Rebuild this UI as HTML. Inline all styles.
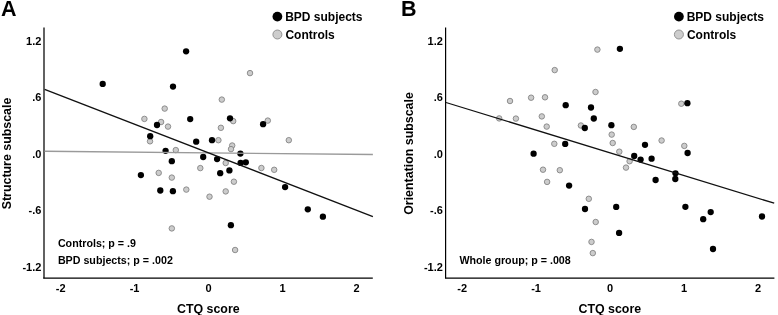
<!DOCTYPE html>
<html><head><meta charset="utf-8"><style>
html,body{margin:0;padding:0;background:#fff;}
svg{display:block;}
text{font-family:"Liberation Sans",sans-serif;font-weight:bold;fill:#000;}
.let{font-size:21.5px;}
.tick{font-size:11px;}
.atitle{font-size:12.4px;}
.leg{font-size:12px;}
.ann{font-size:10.7px;}
.b{fill:#000;}
.g{fill:#cccccc;stroke:#858585;stroke-width:0.9;}
.lb{fill:#000;}
.lg{fill:#cdcdcd;stroke:#8a8a8a;stroke-width:0.9;}
</style></head><body>
<svg width="778" height="315" viewBox="0 0 778 315" style="will-change:transform">
<rect width="778" height="315" fill="#fff"/>
<line x1="44" y1="27.5" x2="44" y2="278.2" stroke="#3a3a3a" stroke-width="1.6"/>
<line x1="43.2" y1="278.2" x2="372.8" y2="278.2" stroke="#000" stroke-width="1.2"/>
<line x1="445.6" y1="27.5" x2="445.6" y2="278.2" stroke="#000" stroke-width="1.2"/>
<line x1="445" y1="278.2" x2="774.4" y2="278.2" stroke="#000" stroke-width="1.2"/>
<circle class="g" cx="250.0" cy="73.1" r="2.75"/>
<circle class="g" cx="221.8" cy="99.6" r="2.75"/>
<circle class="g" cx="164.7" cy="108.6" r="2.75"/>
<circle class="g" cx="144.4" cy="118.9" r="2.75"/>
<circle class="g" cx="161.1" cy="122.0" r="2.75"/>
<circle class="g" cx="168.0" cy="126.6" r="2.75"/>
<circle class="g" cx="233.2" cy="121.1" r="2.75"/>
<circle class="g" cx="220.9" cy="127.8" r="2.75"/>
<circle class="g" cx="267.8" cy="120.6" r="2.75"/>
<circle class="g" cx="150.0" cy="141.3" r="2.75"/>
<circle class="g" cx="218.4" cy="140.2" r="2.75"/>
<circle class="g" cx="288.8" cy="140.2" r="2.75"/>
<circle class="g" cx="232.2" cy="145.5" r="2.75"/>
<circle class="g" cx="231.0" cy="149.1" r="2.75"/>
<circle class="g" cx="175.8" cy="150.1" r="2.75"/>
<circle class="g" cx="225.7" cy="163.0" r="2.75"/>
<circle class="g" cx="200.3" cy="168.1" r="2.75"/>
<circle class="g" cx="261.4" cy="168.0" r="2.75"/>
<circle class="g" cx="274.2" cy="169.8" r="2.75"/>
<circle class="g" cx="158.7" cy="172.9" r="2.75"/>
<circle class="g" cx="171.8" cy="177.6" r="2.75"/>
<circle class="g" cx="233.9" cy="181.7" r="2.75"/>
<circle class="g" cx="186.3" cy="189.6" r="2.75"/>
<circle class="g" cx="225.7" cy="191.4" r="2.75"/>
<circle class="g" cx="209.5" cy="196.7" r="2.75"/>
<circle class="g" cx="171.8" cy="228.4" r="2.75"/>
<circle class="g" cx="235.1" cy="250.0" r="2.75"/>
<circle class="b" cx="102.7" cy="83.9" r="3.15"/>
<circle class="b" cx="186.1" cy="51.3" r="3.15"/>
<circle class="b" cx="173.0" cy="86.6" r="3.15"/>
<circle class="b" cx="190.2" cy="119.1" r="3.15"/>
<circle class="b" cx="230.0" cy="118.3" r="3.15"/>
<circle class="b" cx="157.0" cy="125.0" r="3.15"/>
<circle class="b" cx="263.1" cy="124.2" r="3.15"/>
<circle class="b" cx="150.2" cy="136.2" r="3.15"/>
<circle class="b" cx="196.2" cy="141.7" r="3.15"/>
<circle class="b" cx="212.0" cy="140.2" r="3.15"/>
<circle class="b" cx="240.4" cy="153.6" r="3.15"/>
<circle class="b" cx="203.2" cy="157.0" r="3.15"/>
<circle class="b" cx="217.1" cy="159.1" r="3.15"/>
<circle class="b" cx="240.6" cy="162.9" r="3.15"/>
<circle class="b" cx="245.8" cy="162.3" r="3.15"/>
<circle class="b" cx="171.8" cy="161.2" r="3.15"/>
<circle class="b" cx="220.2" cy="173.2" r="3.15"/>
<circle class="b" cx="229.4" cy="170.4" r="3.15"/>
<circle class="b" cx="160.3" cy="190.5" r="3.15"/>
<circle class="b" cx="172.9" cy="191.2" r="3.15"/>
<circle class="b" cx="140.9" cy="175.1" r="3.15"/>
<circle class="b" cx="230.9" cy="225.2" r="3.15"/>
<circle class="b" cx="285.1" cy="187.1" r="3.15"/>
<circle class="b" cx="307.8" cy="209.3" r="3.15"/>
<circle class="b" cx="322.9" cy="216.7" r="3.15"/>
<circle class="b" cx="165.6" cy="150.8" r="3.15"/>
<circle class="g" cx="597.4" cy="49.6" r="2.75"/>
<circle class="g" cx="554.7" cy="70.1" r="2.75"/>
<circle class="g" cx="595.5" cy="92.0" r="2.75"/>
<circle class="g" cx="510.0" cy="101.0" r="2.75"/>
<circle class="g" cx="531.1" cy="97.7" r="2.75"/>
<circle class="g" cx="545.0" cy="97.3" r="2.75"/>
<circle class="g" cx="499.2" cy="118.4" r="2.75"/>
<circle class="g" cx="515.9" cy="118.6" r="2.75"/>
<circle class="g" cx="541.8" cy="116.4" r="2.75"/>
<circle class="g" cx="546.7" cy="126.6" r="2.75"/>
<circle class="g" cx="580.9" cy="125.5" r="2.75"/>
<circle class="g" cx="611.7" cy="134.6" r="2.75"/>
<circle class="g" cx="612.7" cy="143.0" r="2.75"/>
<circle class="g" cx="554.3" cy="143.8" r="2.75"/>
<circle class="g" cx="619.3" cy="151.7" r="2.75"/>
<circle class="g" cx="633.8" cy="126.9" r="2.75"/>
<circle class="g" cx="661.6" cy="140.5" r="2.75"/>
<circle class="g" cx="681.3" cy="103.7" r="2.75"/>
<circle class="g" cx="684.3" cy="145.9" r="2.75"/>
<circle class="g" cx="629.6" cy="161.2" r="2.75"/>
<circle class="g" cx="626.0" cy="167.6" r="2.75"/>
<circle class="g" cx="543.0" cy="169.7" r="2.75"/>
<circle class="g" cx="559.8" cy="170.2" r="2.75"/>
<circle class="g" cx="547.1" cy="181.9" r="2.75"/>
<circle class="g" cx="588.8" cy="198.8" r="2.75"/>
<circle class="g" cx="595.7" cy="222.0" r="2.75"/>
<circle class="g" cx="591.5" cy="241.9" r="2.75"/>
<circle class="g" cx="592.8" cy="253.1" r="2.75"/>
<circle class="b" cx="619.9" cy="48.8" r="3.15"/>
<circle class="b" cx="565.7" cy="105.2" r="3.15"/>
<circle class="b" cx="591.0" cy="107.5" r="3.15"/>
<circle class="b" cx="593.8" cy="118.5" r="3.15"/>
<circle class="b" cx="584.8" cy="128.0" r="3.15"/>
<circle class="b" cx="611.4" cy="125.2" r="3.15"/>
<circle class="b" cx="533.6" cy="153.7" r="3.15"/>
<circle class="b" cx="565.2" cy="143.9" r="3.15"/>
<circle class="b" cx="687.4" cy="103.2" r="3.15"/>
<circle class="b" cx="645.0" cy="144.8" r="3.15"/>
<circle class="b" cx="687.6" cy="153.0" r="3.15"/>
<circle class="b" cx="634.2" cy="156.0" r="3.15"/>
<circle class="b" cx="640.6" cy="159.6" r="3.15"/>
<circle class="b" cx="651.6" cy="158.7" r="3.15"/>
<circle class="b" cx="675.5" cy="173.3" r="3.15"/>
<circle class="b" cx="675.3" cy="179.0" r="3.15"/>
<circle class="b" cx="655.6" cy="180.0" r="3.15"/>
<circle class="b" cx="569.1" cy="185.6" r="3.15"/>
<circle class="b" cx="585.0" cy="209.0" r="3.15"/>
<circle class="b" cx="616.2" cy="206.9" r="3.15"/>
<circle class="b" cx="619.1" cy="232.9" r="3.15"/>
<circle class="b" cx="685.4" cy="206.8" r="3.15"/>
<circle class="b" cx="710.7" cy="212.1" r="3.15"/>
<circle class="b" cx="703.2" cy="219.2" r="3.15"/>
<circle class="b" cx="713.0" cy="249.0" r="3.15"/>
<circle class="b" cx="762.0" cy="216.5" r="3.15"/>
<line x1="44.6" y1="151.3" x2="372.9" y2="154.5" stroke="#9a9a9a" stroke-width="1.4"/>
<line x1="44.6" y1="89.3" x2="372.9" y2="216.6" stroke="#111" stroke-width="1.3"/>
<line x1="446" y1="102.5" x2="774.2" y2="203.2" stroke="#111" stroke-width="1.3"/>
<text class="let" x="1.1" y="15.7">A</text>
<text class="tick" x="41.4" y="44.80" text-anchor="end">1.2</text>
<text class="tick" x="41.4" y="101.26" text-anchor="end">.6</text>
<text class="tick" x="41.4" y="157.72" text-anchor="end">.0</text>
<text class="tick" x="41.4" y="214.18" text-anchor="end">-.6</text>
<text class="tick" x="41.4" y="270.64" text-anchor="end">-1.2</text>
<text class="tick" x="60.61" y="291.6" text-anchor="middle">-2</text>
<text class="tick" x="134.58" y="291.6" text-anchor="middle">-1</text>
<text class="tick" x="208.55" y="291.6" text-anchor="middle">0</text>
<text class="tick" x="282.52" y="291.6" text-anchor="middle">1</text>
<text class="tick" x="356.49" y="291.6" text-anchor="middle">2</text>
<text class="atitle" x="208.3" y="312.8" text-anchor="middle">CTQ score</text>
<text class="atitle" transform="translate(11.4,153.5) rotate(-90)" text-anchor="middle">Structure subscale</text>
<circle class="lb" cx="277.4" cy="16.6" r="4.9"/>
<circle class="lg" cx="277.4" cy="34.5" r="4.5"/>
<text class="leg" x="285.2" y="20.9">BPD subjects</text>
<text class="leg" x="285.4" y="38.6">Controls</text>
<text class="ann" x="57.9" y="246.7">Controls; p = .9</text>
<text class="ann" x="57.9" y="264.3">BPD subjects; p = .002</text>
<text class="let" x="401.1" y="15.7">B</text>
<text class="tick" x="442.9" y="44.80" text-anchor="end">1.2</text>
<text class="tick" x="442.9" y="101.26" text-anchor="end">.6</text>
<text class="tick" x="442.9" y="157.72" text-anchor="end">.0</text>
<text class="tick" x="442.9" y="214.18" text-anchor="end">-.6</text>
<text class="tick" x="442.9" y="270.64" text-anchor="end">-1.2</text>
<text class="tick" x="462.11" y="291.6" text-anchor="middle">-2</text>
<text class="tick" x="536.08" y="291.6" text-anchor="middle">-1</text>
<text class="tick" x="610.05" y="291.6" text-anchor="middle">0</text>
<text class="tick" x="684.02" y="291.6" text-anchor="middle">1</text>
<text class="tick" x="757.99" y="291.6" text-anchor="middle">2</text>
<text class="atitle" x="609.8" y="312.8" text-anchor="middle">CTQ score</text>
<text class="atitle" transform="translate(412.9,153.5) rotate(-90)" text-anchor="middle">Orientation subscale</text>
<circle class="lb" cx="678.9" cy="16.6" r="4.9"/>
<circle class="lg" cx="678.9" cy="34.5" r="4.5"/>
<text class="leg" x="686.7" y="20.9">BPD subjects</text>
<text class="leg" x="686.9" y="38.6">Controls</text>
<text class="ann" x="459.4" y="263.9">Whole group; p = .008</text>
</svg>
</body></html>
